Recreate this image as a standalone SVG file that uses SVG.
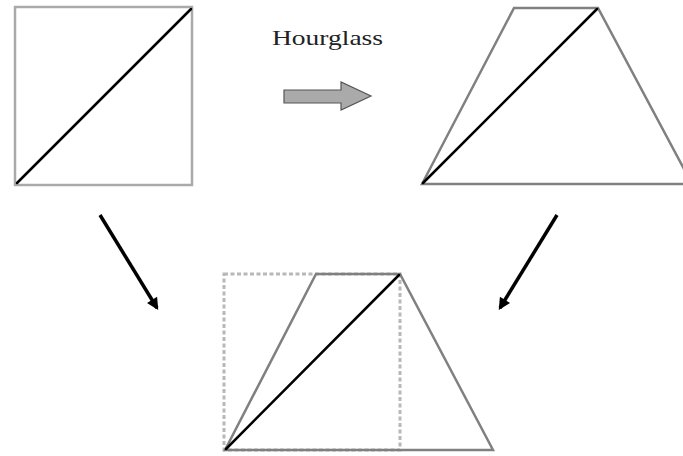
<svg xmlns="http://www.w3.org/2000/svg" width="683" height="456" viewBox="0 0 683 456">
<style>
.sq{fill:none;stroke:#aaaaaa;stroke-width:2.5}
.tz{fill:none;stroke:#808080;stroke-width:2.5;stroke-linejoin:miter}
.diag{stroke:#000;stroke-width:2.5;stroke-linecap:round}
.dot{fill:none;stroke:#b8b8b8;stroke-width:3;stroke-dasharray:4 2.5}
.conn{stroke:#000;stroke-width:3.5;fill:none}
.lbl{font-family:"Liberation Serif","Times New Roman",serif;font-size:22px;fill:#222}
</style>
<defs>
<marker id="ah" viewBox="0 0 10 10" refX="8" refY="5" markerWidth="4" markerHeight="3.4" orient="auto" markerUnits="strokeWidth">
<path d="M0,0 L10,5 L0,10 z" fill="#000"/>
</marker>
</defs>
<g id="square">
<rect class="sq" x="15" y="7" width="177" height="178"/>
<line class="diag" x1="17" y1="183" x2="191" y2="9"/>
</g>
<g id="trapezoid">
<polygon class="tz" points="422,184 514,8 598,8 692,184"/>
<line class="diag" x1="423" y1="183" x2="597" y2="9"/>
</g>
<g id="result">
<rect class="dot" x="224" y="274" width="176" height="176"/>
<polygon class="tz" points="225,450 316,274 400,274 493,450"/>
<line class="diag" x1="226" y1="449" x2="399" y2="275"/>
</g>
<g id="hourglass-label">
<text class="lbl" x="272" y="45" textLength="111" lengthAdjust="spacingAndGlyphs">Hourglass</text>
</g>
<g id="connectors">
<path d="M284,90 L341,90 L341,82 L371,96 L341,110 L341,103 L284,103 z" fill="#aaaaaa" stroke="#555" stroke-width="1.2"/>
<line class="conn" x1="100" y1="215" x2="157" y2="308" marker-end="url(#ah)"/>
<line class="conn" x1="557" y1="215" x2="500" y2="308" marker-end="url(#ah)"/>
</g>
</svg>
